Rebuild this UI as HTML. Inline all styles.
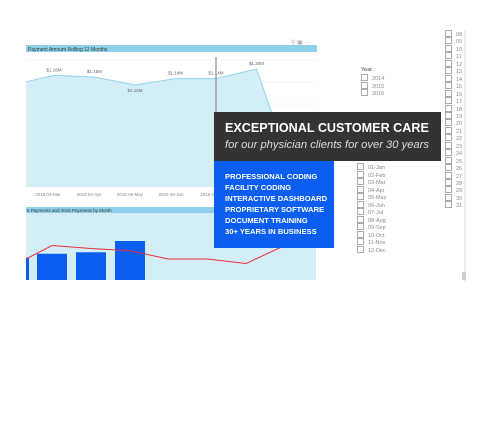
<!DOCTYPE html>
<html><head><meta charset="utf-8"><style>
body{margin:0;width:490px;height:427px;background:#fff;overflow:hidden;font-family:"Liberation Sans",sans-serif;position:relative}
.abs{position:absolute}
.sl{position:absolute;font-size:5.5px;color:#888;white-space:nowrap}
.sl i{display:inline-block;width:5px;height:5px;border:1px solid #aaa;margin-right:4px;vertical-align:-1px}
</style></head><body>
<svg class="abs" style="left:0;top:0" width="490" height="427">
<g id="topchart"></g>
<g id="botchart"></g>
<line x1="465" y1="30" x2="465" y2="282" stroke="#ddd" stroke-width="1"/>
<rect x="462" y="272" width="4" height="8" fill="#ccc"/>
</svg>
<div class="abs" style="left:214px;top:112px;width:227px;height:49px;background:#333">
<div class="abs" style="left:11px;top:9px;color:#fff;font-size:12.6px;font-weight:bold;white-space:nowrap">EXCEPTIONAL CUSTOMER CARE</div>
<div class="abs" style="left:11px;top:27px;color:#ddd;font-size:11.2px;font-style:italic;white-space:nowrap">for our physician clients for over 30 years</div>
</div>
<div class="abs" style="left:214px;top:161px;width:120px;height:87px;background:#0b5ef0">
<div class="abs" style="left:11px;top:10px;color:#fff;font-size:7.6px;font-weight:bold;line-height:11px;white-space:nowrap">PROFESSIONAL CODING<br>FACILITY CODING<br>INTERACTIVE DASHBOARD<br>PROPRIETARY SOFTWARE<br>DOCUMENT TRAINING<br>30+ YEARS IN BUSINESS</div>
</div>
<div id="slicers"></div>
<script>
const months=["2016 03-Mar","2016 04-Apr","2016 05-May","2016 06-Jun","2016 07-Jul","2016 08-Aug","2016 09-Sep"];
const rollVals=[1.12,1.16,1.15,1.10,1.14,1.14,1.20,0.20];
const rollLabels=["","$1.16M","$1.15M","$1.10M","$1.14M","$1.14M","$1.20M","$0.20M"];
const bar2016=[0.30,0.35,0.37,0.52];
const line2015=[0.28,0.46,0.42,0.39,0.28,0.28,0.22,0.46];
const monthItems=["01-Jan","02-Feb","03-Mar","04-Apr","05-May","06-Jun","07-Jul","08-Aug","09-Sep","10-Oct","11-Nov","12-Dec"];
const years=["2014","2015","2016"];
const days=["08","09","10","11","12","13","14","15","16","17","18","19","20","21","22","23","24","25","26","27","28","29","30","31"];
(function(){
const NS="http://www.w3.org/2000/svg";
function mk(p,t,a,txt){const e=document.createElementNS(NS,t);for(const k in a)e.setAttribute(k,a[k]);if(txt!==undefined)e.textContent=txt;p.appendChild(e);return e;}
const tg=document.getElementById("topchart");
let e;
e=mk(tg,"rect",{x:26,y:45,width:291,height:7,fill:"#8dd2ea"});


e=mk(tg,"text",{x:28,y:51,"font-size":5,fill:"#333"},"Payment Amount Rolling 12 Months");


e=mk(tg,"text",{x:291,y:44,"font-size":6,fill:"#aaa"},"⚲ ▣ ···");


for(let i=0;i<6;i++){e=mk(tg,"line",{x1:26,x2:317,y1:60+i*22,y2:60+i*22,stroke:"#eee","stroke-width":0.5});

}
const yr=v=>v>1?69+(1.2-v)*160:69+(1.2-v)*111;
let pts=rollVals.map((v,i)=>[i==0?26:54+(i-1)*40.5,yr(v)]);
pts[7][0]=295;
let d="M"+pts.map(p=>p.join(",")).join("L");
e=mk(tg,"path",{d:d+"L295,187L26,187Z",fill:"#d4eef7"});


e=mk(tg,"path",{d:d,fill:"none",stroke:"#8fd3ec","stroke-width":1});


pts.forEach((p,i)=>{if(rollLabels[i]){const below=i>0&&rollVals[i]<rollVals[i-1]&&rollVals[i]<rollVals[i+1]&&i<7;
e=mk(tg,"text",{x:p[0],y:below?p[1]+7:p[1]-4,"font-size":4.5,fill:"#666","text-anchor":"middle"},rollLabels[i]);

}});
e=mk(tg,"line",{x1:216,x2:216,y1:57,y2:187,stroke:"#777","stroke-width":1});


months.forEach((m,i)=>{e=mk(tg,"text",{x:48+i*41,y:196,"font-size":4.5,fill:"#888","text-anchor":"middle"},m);

});
const bg=document.getElementById("botchart");
e=mk(bg,"rect",{x:26,y:213,width:290,height:67,fill:"#d4eef7"});


e=mk(bg,"rect",{x:26,y:207,width:290,height:6,fill:"#8dd2ea"});


e=mk(bg,"text",{x:27,y:212,"font-size":4.5,fill:"#333"},"5 Payments and 2015 Payments by Month");


const yb=v=>280-v*75;
bar2016.forEach((v,i)=>{const x=i==0?26:37+(i-1)*39;e=mk(bg,"rect",{x:x,y:yb(v),width:i==0?3:30,height:280-yb(v),fill:"#0b5ef0"});

});
e=mk(bg,"polyline",{points:line2015.map((v,i)=>[(i==0?26:52+(i-1)*38.8),yb(v)].join(",")).join(" "),fill:"none",stroke:"#e8303a","stroke-width":1});


const s=document.getElementById("slicers");
function item(txt,x,y,nm){const dv=document.createElement("div");dv.className="sl";dv.style.left=x+"px";dv.style.top=y+"px";dv.innerHTML="<i></i>"+txt;


s.appendChild(dv);}
const yt=document.createElement("div");yt.className="sl";yt.style.left="361px";yt.style.top="67px";yt.style.color="#444";yt.textContent="Year";


s.appendChild(yt);
years.forEach((t,i)=>item(t,361,74+i*7.6,"year-option"));
monthItems.forEach((t,i)=>item(t,357,163+i*7.5,"month-option"));
days.forEach((t,i)=>item(t,445,30+i*7.45,"day-option"));
})();
</script>
</body></html>
